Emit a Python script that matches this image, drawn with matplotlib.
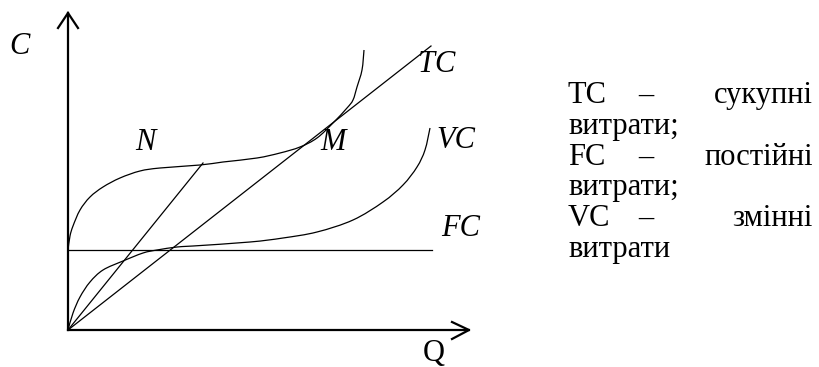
import matplotlib
matplotlib.use("Agg")
import matplotlib.pyplot as plt
from matplotlib.path import Path
from matplotlib.patches import PathPatch

# Curve values (Q, C)
tc_q = [0, 2, 5, 12, 22, 35, 52, 72, 92, 132, 155, 189, 212, 232, 249, 265, 279, 285, 289, 294, 296]
tc_c = [80, 94, 104, 120, 133, 143, 152, 159, 162, 165, 168, 172, 177, 183, 192, 207, 222, 230, 243, 260, 280]

vc_q = [0, 5, 12, 22, 35, 55, 75, 89, 109, 125, 182, 215, 249, 285, 315, 335, 349, 357, 362]
vc_c = [0, 17, 33, 48, 60, 69, 77, 80, 83, 84, 88, 92, 98, 110, 128, 145, 163, 180, 202]

fc_q = [0, 364]
fc_c = [80, 80]

ray_n_q = [0, 135]
ray_n_c = [0, 167]
ray_m_q = [0, 363]
ray_m_c = [0, 284]

legend_lines = [("TC", "сукупні"), ("FC", "постійні"), ("VC", "змінні")]
legend_tail = "витрати"

W, H = 819, 367
fig = plt.figure(figsize=(W / 100, H / 100), dpi=100)
ax = fig.add_axes([0, 0, 1, 1])
ax.set_xlim(-68, W - 68)
ax.set_ylim(-(H - 330), 330)
ax.axis("off")

lw = 0.9


def smooth_path(xs, ys):
    # Catmull-Rom through the read points, rendered as cubic Bezier segments
    pts = list(zip(xs, ys))
    verts = [pts[0]]
    codes = [Path.MOVETO]
    n = len(pts)
    for i in range(n - 1):
        p0 = pts[i - 1] if i > 0 else pts[i]
        p1 = pts[i]
        p2 = pts[i + 1]
        p3 = pts[i + 2] if i + 2 < n else pts[i + 1]
        c1 = (p1[0] + (p2[0] - p0[0]) / 6, p1[1] + (p2[1] - p0[1]) / 6)
        c2 = (p2[0] - (p3[0] - p1[0]) / 6, p2[1] - (p3[1] - p1[1]) / 6)
        verts += [c1, c2, p2]
        codes += [Path.CURVE4] * 3
    return Path(verts, codes)


for q, c in [(tc_q, tc_c), (vc_q, vc_c)]:
    ax.add_patch(PathPatch(smooth_path(q, c), fill=False, edgecolor="black", lw=lw))
for q, c in [(fc_q, fc_c), (ray_n_q, ray_n_c), (ray_m_q, ray_m_c)]:
    ax.plot(q, c, color="black", lw=lw)

# axes with open arrow heads
alw = 1.6
ax.plot([0, 0], [0, 317], color="black", lw=alw)
ax.plot([0, 401], [0, 0], color="black", lw=alw)
ax.plot([-10, 0, 10], [302, 317, 302], color="black", lw=alw, solid_joinstyle="miter")
ax.plot([384, 401, 384], [8, 0, -9], color="black", lw=alw, solid_joinstyle="miter")

serif = ["Liberation Serif", "DejaVu Serif"]
fs = 22


def lab(x, y, s, style="italic"):
    ax.text(x - 68, 330 - y, s, fontsize=fs, family=serif, style=style, ha="center", va="center")


lab(19, 47, "C")
lab(145, 142, "N")
lab(333, 142, "M")
lab(437, 64, "TC")
lab(456, 141, "VC")
lab(461, 229, "FC")
lab(434, 354, "Q", style="normal")

# right-hand text block (justified)
base_y = 103
step = 30.8
for i, (abbr, word) in enumerate(legend_lines):
    y1 = base_y + 2 * i * step
    y2 = y1 + step
    kw = dict(fontsize=fs, family=serif, va="baseline")
    ax.text(568 - 68, 330 - y1, abbr, ha="left", **kw)
    ax.text(646 - 68, 330 - y1, "–", ha="center", **kw)
    ax.text(813 - 68, 330 - y1, word, ha="right", **kw)
    tail = legend_tail + (";" if i < len(legend_lines) - 1 else "")
    ax.text(568 - 68, 330 - y2, tail, ha="left", **kw)

fig.savefig("out.png", dpi=100, facecolor="white")
